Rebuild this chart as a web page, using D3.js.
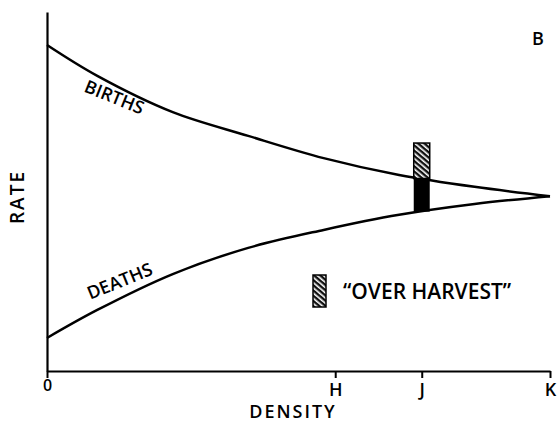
<!DOCTYPE html>
<html>
<head>
<meta charset="utf-8">
<script src="https://cdn.jsdelivr.net/npm/d3@7"></script>
<style>
  body { margin: 0; background: #fff; }
  svg { display: block; font-family: "Open Sans", sans-serif; font-weight: 600; }
</style>
</head>
<body>
<div id="chart"></div>
<script>
// density expressed as fraction of K, rate in arbitrary units
var density = [0, 0.1, 0.25, 0.4, 0.55, 0.7, 0.85, 1];
var births  = [90.8, 82.2, 72.1, 65.5, 59.3, 54.6, 51.3, 48.7];
var deaths  = [9.2, 17.0, 27.0, 34.3, 39.3, 43.5, 46.5, 48.7];

var tickValues = [0, 0.573, 0.745, 1];
var tickLabels = ["0", "H", "J", "K"];

// "over harvest" bar at J: top of hatched part
var harvestDensity = 0.745;
var harvestTop = 63.5;

var width = 560, height = 423;
var margin = {top: 12, right: 10, bottom: 52, left: 47};

var svg = d3.select("#chart").append("svg")
    .attr("width", width)
    .attr("height", height);

var x = d3.scaleLinear().domain([0, 1]).range([margin.left, width - margin.right]);
var y = d3.scaleLinear().domain([0, 100]).range([height - margin.bottom, margin.top]);

var defs = svg.append("defs");
var pat = defs.append("pattern")
    .attr("id", "hatch")
    .attr("patternUnits", "userSpaceOnUse")
    .attr("width", 4).attr("height", 4)
    .attr("patternTransform", "rotate(-50)");
pat.append("rect").attr("width", 4).attr("height", 4).attr("fill", "#111");
pat.append("rect").attr("width", 1.6).attr("height", 4).attr("fill", "#fff");

// axes
var xAxis = d3.axisBottom(x)
    .tickValues(tickValues)
    .tickFormat(function(d, i) { return tickLabels[i]; })
    .tickSize(7)
    .tickSizeOuter(0);

var gx = svg.append("g")
    .attr("transform", "translate(0," + y(0) + ")")
    .call(xAxis);
gx.select(".domain").attr("stroke-width", 2.2);
gx.selectAll(".tick line").attr("stroke-width", 2);
gx.selectAll(".tick text")
    .attr("y", 12)
    .attr("font-size", 18)
    .attr("font-family", "Open Sans, sans-serif")
    .attr("font-weight", 600)
    .attr("fill", "#000");
gx.selectAll(".tick text").filter(function(d) { return d === 0; })
    .attr("y", 9)
    .attr("font-size", 16);

var gy = svg.append("g")
    .attr("transform", "translate(" + x(0) + ",0)")
    .call(d3.axisLeft(y).tickValues([]).tickSizeOuter(0));
gy.select(".domain").attr("stroke-width", 2.2);

// curves
var line = d3.line()
    .x(function(d) { return x(d[0]); })
    .y(function(d) { return y(d[1]); })
    .curve(d3.curveCatmullRom.alpha(0.5));

svg.append("path")
    .datum(d3.zip(density, births))
    .attr("d", line)
    .attr("fill", "none")
    .attr("stroke", "#000")
    .attr("stroke-width", 2.5);

svg.append("path")
    .datum(d3.zip(density, deaths))
    .attr("d", line)
    .attr("fill", "none")
    .attr("stroke", "#000")
    .attr("stroke-width", 2.5);

// rate at J
function at(arr, d) {
  var i = d3.bisectRight(density, d) - 1;
  var t = (d - density[i]) / (density[i + 1] - density[i]);
  return arr[i] + t * (arr[i + 1] - arr[i]);
}
var bJ = at(births, harvestDensity), dJ = at(deaths, harvestDensity);
var barW = 16;

svg.append("rect")
    .attr("x", x(harvestDensity) - barW / 2)
    .attr("y", y(harvestTop))
    .attr("width", barW)
    .attr("height", y(bJ) - y(harvestTop))
    .attr("fill", "url(#hatch)")
    .attr("stroke", "#000")
    .attr("stroke-width", 1.5);

svg.append("rect")
    .attr("x", x(harvestDensity) - barW / 2)
    .attr("y", y(bJ))
    .attr("width", barW)
    .attr("height", y(dJ) - y(bJ))
    .attr("fill", "#000");

// legend
svg.append("rect")
    .attr("x", 313).attr("y", 275)
    .attr("width", 13).attr("height", 32)
    .attr("fill", "url(#hatch)")
    .attr("stroke", "#000")
    .attr("stroke-width", 1.5);

svg.append("text")
    .attr("x", 343).attr("y", 299)
    .attr("font-size", 21)
    .text("\u201COVER HARVEST\u201D");

// labels
svg.append("text")
    .attr("transform", "translate(112,103) rotate(22)")
    .attr("text-anchor", "middle")
    .attr("font-size", 18)
    .text("BIRTHS");

svg.append("text")
    .attr("transform", "translate(122,287) rotate(-22)")
    .attr("text-anchor", "middle")
    .attr("font-size", 18)
    .text("DEATHS");

svg.append("text")
    .attr("transform", "translate(24,197) rotate(-90)")
    .attr("text-anchor", "middle")
    .attr("font-size", 19)
    .attr("letter-spacing", 2)
    .text("RATE");

svg.append("text")
    .attr("x", 293).attr("y", 418)
    .attr("text-anchor", "middle")
    .attr("font-size", 18)
    .attr("letter-spacing", 2)
    .text("DENSITY");

svg.append("text")
    .attr("x", 538).attr("y", 45)
    .attr("text-anchor", "middle")
    .attr("font-size", 18)
    .text("B");
</script>
</body>
</html>
